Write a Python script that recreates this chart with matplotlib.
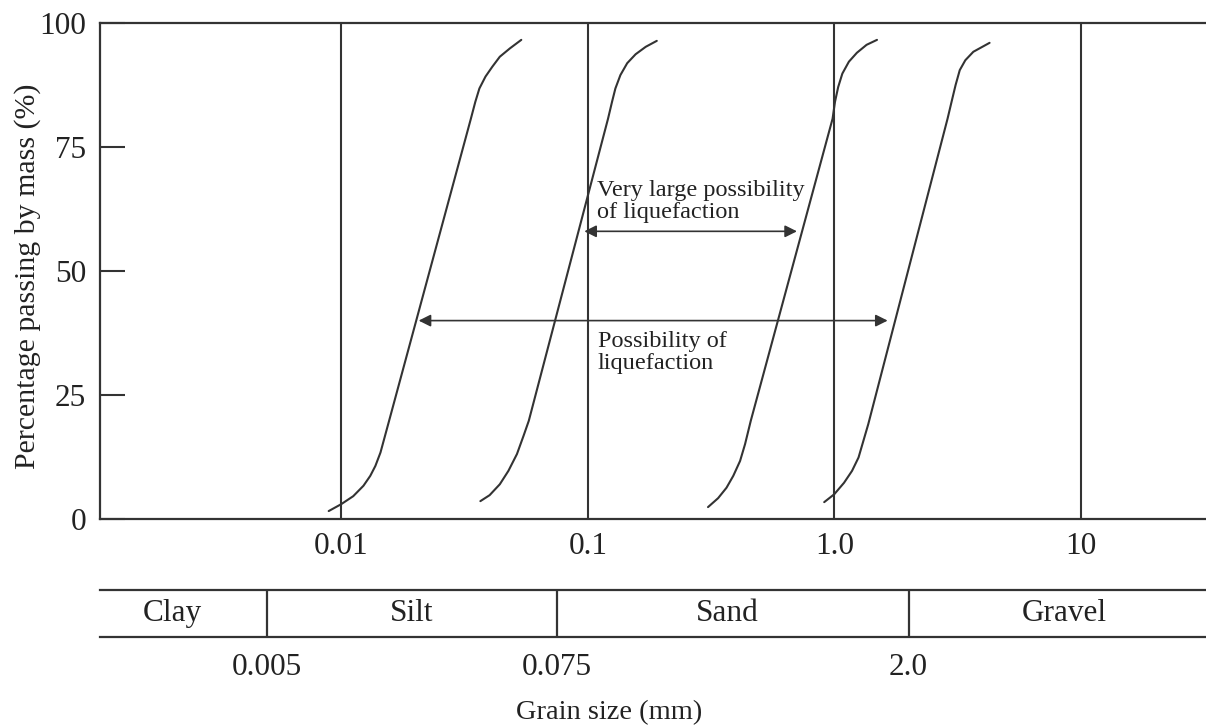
import matplotlib
matplotlib.use('Agg')
import matplotlib.pyplot as plt
from matplotlib.transforms import blended_transform_factory

plt.rcParams['font.family'] = ['Liberation Serif', 'DejaVu Serif']

# ---------------- data (grain size in mm, % passing) ----------------
curve1_size = [0.00889, 0.0100, 0.01118, 0.01230, 0.01311, 0.01375, 0.01442, 0.01563,
               0.03355, 0.03497, 0.03633, 0.03846, 0.04101, 0.04396, 0.04836, 0.05373]
curve1_pass = [1.6, 3.0, 4.6, 6.7, 8.7, 10.7, 13.4, 19.8,
               80.7, 84.1, 86.8, 89.2, 91.2, 93.2, 94.9, 96.6]

curve2_size = [0.03666, 0.03996, 0.04396, 0.04763, 0.0516, 0.05490, 0.05763,
               0.1208, 0.1254, 0.1294, 0.1356, 0.1445, 0.1563, 0.1718, 0.1905]
curve2_pass = [3.6, 4.8, 7.0, 9.7, 13.1, 16.8, 19.8,
               80.7, 84.1, 86.8, 89.5, 91.9, 93.7, 95.2, 96.4]

curve3_size = [0.3074, 0.3378, 0.3653, 0.3892, 0.4147, 0.4345, 0.4583,
               0.984, 1.0064, 1.037, 1.078, 1.146, 1.235, 1.352, 1.490]
curve3_pass = [2.4, 4.2, 6.3, 8.7, 11.7, 15.1, 19.8,
               80.7, 84.1, 87.1, 89.8, 92.2, 94.0, 95.6, 96.6]

curve4_size = [0.910, 1.0, 1.095, 1.180, 1.254, 1.313, 1.373,
               2.88, 3.013, 3.105, 3.228, 3.401, 3.665, 4.265]
curve4_pass = [3.4, 5.0, 7.3, 9.7, 12.4, 15.8, 19.1,
               80.7, 84.8, 87.5, 90.5, 92.5, 94.2, 96.0]

curves = [(curve1_size, curve1_pass), (curve2_size, curve2_pass),
          (curve3_size, curve3_pass), (curve4_size, curve4_pass)]

x_ticks = [0.01, 0.1, 1.0, 10]
x_tick_labels = ['0.01', '0.1', '1.0', '10']
y_ticks = [0, 25, 50, 75, 100]

soil_names = ['Clay', 'Silt', 'Sand', 'Gravel']
soil_bounds = [0.005, 0.075, 2.0]
soil_bound_labels = ['0.005', '0.075', '2.0']

very_large_range = (0.0968, 0.7055)   # grain sizes at arrow ends
very_large_level = 58.0               # % passing
possible_range = (0.0206, 1.646)
possible_level = 40.0

# ---------------- figure ----------------
W, H = 1206, 726
fig = plt.figure(figsize=(W / 100, H / 100), dpi=100)
LC = '#333333'
TC = '#222222'

xmin, xmax = 0.00105, 32.2
ax_left, ax_right = 100 / W, 1.0
ax = fig.add_axes([ax_left, (H - 519) / H, ax_right - ax_left, (519 - 23) / H])
ax.set_xscale('log')
ax.set_xlim(xmin, xmax)
ax.set_ylim(0, 100)

for s, p in curves:
    ax.plot(s, p, color=LC, lw=1.5, solid_capstyle='round', solid_joinstyle='round')

for xv in x_ticks:
    ax.axvline(xv, color=LC, lw=1.5, zorder=1)

ax.set_xticks(x_ticks)
ax.set_xticklabels(x_tick_labels)
ax.xaxis.set_minor_locator(matplotlib.ticker.NullLocator())
ax.tick_params(axis='x', length=0, pad=9, labelsize=22.5, labelcolor=TC)
ax.set_yticks(y_ticks)
ax.tick_params(axis='y', direction='in', length=18, width=1.5, color=LC,
               pad=10, labelsize=22.5, labelcolor=TC)
for side in ['left', 'top', 'bottom']:
    ax.spines[side].set_linewidth(1.6)
    ax.spines[side].set_color(LC)
ax.spines['right'].set_visible(False)

fig.text(28 / W, 1 - 276 / H, 'Percentage passing by mass (%)', rotation=90,
         ha='center', va='center', fontsize=21.5, color=TC)

arrow_kw = dict(arrowstyle='<|-|>', color=LC, lw=1.2, shrinkA=0, shrinkB=0,
                mutation_scale=18)
ax.annotate('', xy=(very_large_range[1], very_large_level),
            xytext=(very_large_range[0], very_large_level), arrowprops=arrow_kw)
ax.annotate('', xy=(possible_range[1], possible_level),
            xytext=(possible_range[0], possible_level), arrowprops=arrow_kw)

ax.text(0.109, 68.4, 'Very large possibility\nof liquefaction', fontsize=17.5,
        color=TC, ha='left', va='top', linespacing=1.08)
ax.text(0.110, 38.0, 'Possibility of\nliquefaction', fontsize=17.5,
        color=TC, ha='left', va='top', linespacing=1.1)

# ---------------- soil classification strip ----------------
ax2 = fig.add_axes([ax_left, (H - 637) / H, ax_right - ax_left, (637 - 590) / H])
ax2.set_xscale('log')
ax2.set_xlim(xmin, xmax)
ax2.set_ylim(0, 1)
ax2.set_xticks([])
ax2.set_yticks([])
ax2.xaxis.set_minor_locator(matplotlib.ticker.NullLocator())
ax2.patch.set_alpha(0)
for side in ['left', 'right']:
    ax2.spines[side].set_visible(False)
for side in ['top', 'bottom']:
    ax2.spines[side].set_linewidth(1.6)
    ax2.spines[side].set_color(LC)
for b in soil_bounds:
    ax2.axvline(b, color=LC, lw=1.6)

edges = [xmin] + soil_bounds + [xmax]
centers = []
for i in range(len(soil_names)):
    lo, hi = edges[i], edges[i + 1]
    centers.append((lo * hi) ** 0.5)
centers[0] *= 0.9
centers[2] *= 0.95
centers[3] *= 1.07
trans = blended_transform_factory(ax2.transData, ax2.transAxes)
for c, name in zip(centers, soil_names):
    ax2.text(c, 0.5, name, transform=trans, ha='center', va='center',
             fontsize=22.5, color=TC)
for b, lab in zip(soil_bounds, soil_bound_labels):
    ax2.text(b, -0.65, lab, transform=trans, ha='center', va='center',
             fontsize=22.5, color=TC)

fig.text(609 / W, 1 - 713 / H, 'Grain size (mm)', ha='center', va='center',
         fontsize=20.5, color=TC)

fig.savefig('out.png', dpi=100)
